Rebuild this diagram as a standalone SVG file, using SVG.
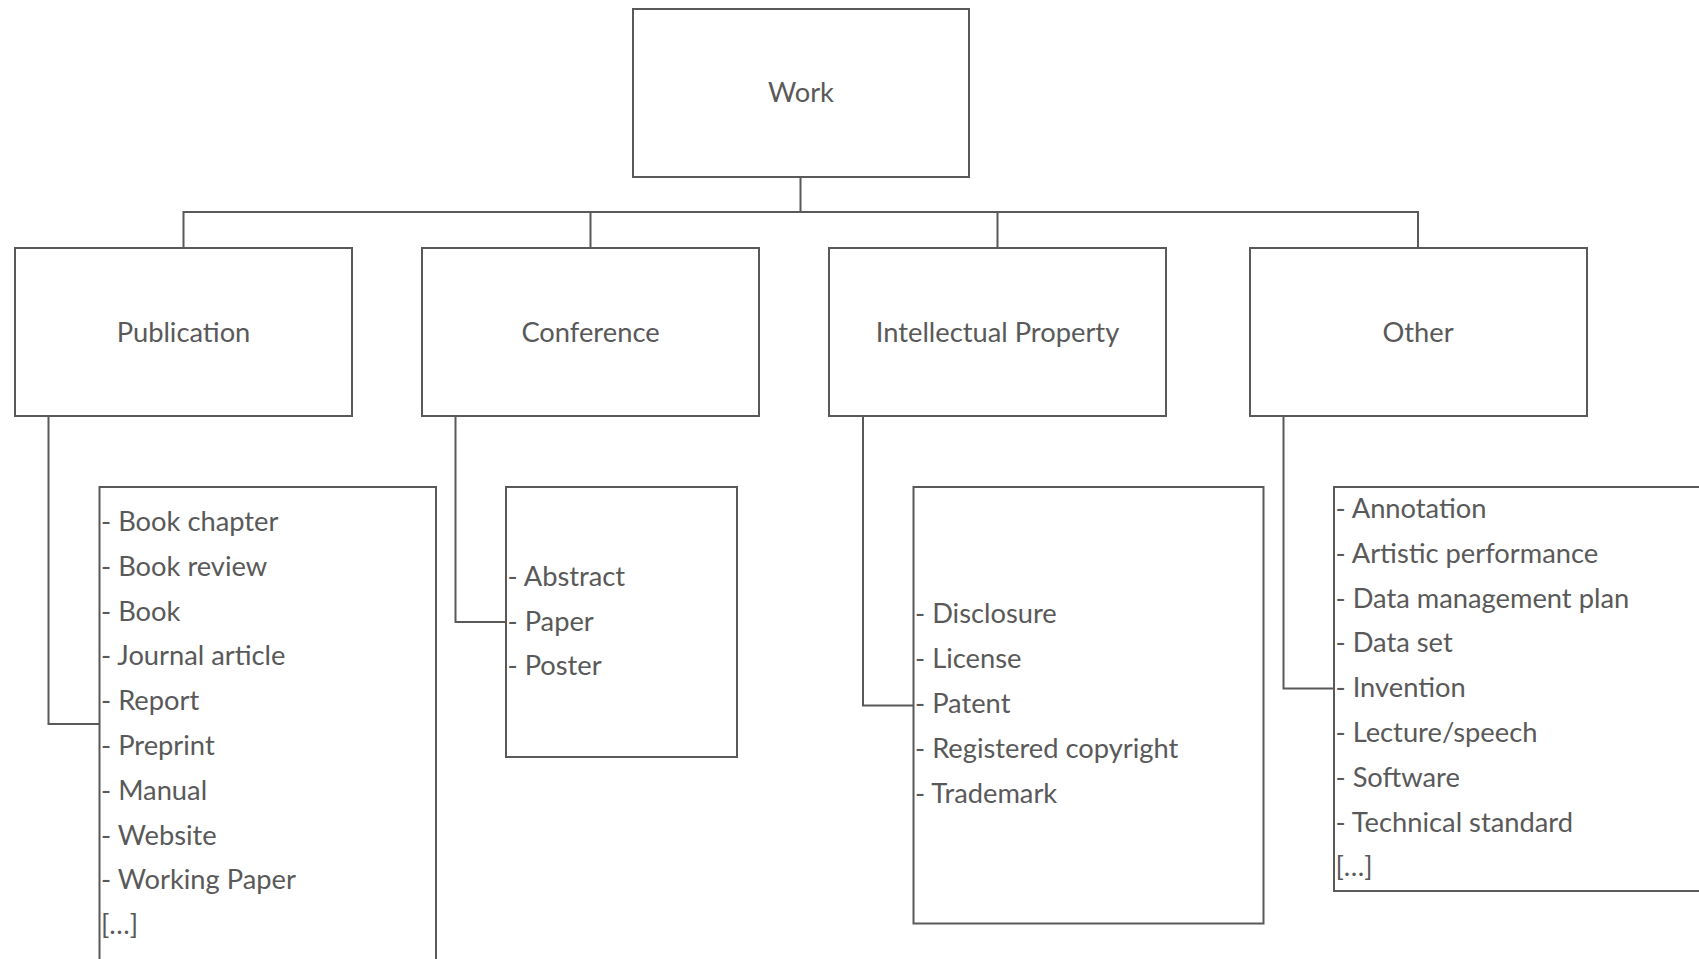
<svg xmlns="http://www.w3.org/2000/svg" width="1699" height="959" viewBox="0 0 1699 959">
<style>
.box{fill:#ffffff;stroke:#595959;stroke-width:2}
.conn{fill:none;stroke:#595959;stroke-width:2}
.t{font-family:Lato,"Liberation Sans",sans-serif;font-size:27.3px;fill:#595959}
.c{text-anchor:middle}
</style>
<rect width="1699" height="959" fill="#ffffff"/>
<g id="connectors">
<path class="conn" d="M800.5,177 V212 M183.5,248 V212 H1418 V248 M590.5,212 V248 M997.5,212 V248"/>
<path class="conn" d="M48.5,416 V724 H99.5"/>
<path class="conn" d="M455.5,416 V622 H506"/>
<path class="conn" d="M863,416 V705.5 H913.5"/>
<path class="conn" d="M1283.5,416 V688.5 H1334"/>
</g>
<g id="work">
<rect class="box" x="633" y="9" width="336" height="168"/>
<text class="t c" x="801" y="102">Work</text>
</g>
<g id="publication">
<rect class="box" x="15" y="248" width="337" height="168"/>
<text class="t c" x="183.5" y="341.5">Publication</text>
</g>
<g id="conference">
<rect class="box" x="422" y="248" width="337" height="168"/>
<text class="t c" x="590.5" y="341.5">Conference</text>
</g>
<g id="intellectual-property">
<rect class="box" x="829" y="248" width="337" height="168"/>
<text class="t c" x="997.5" y="341.5">Intellectual Property</text>
</g>
<g id="other">
<rect class="box" x="1250" y="248" width="337" height="168"/>
<text class="t c" x="1418" y="341.5">Other</text>
</g>
<g id="publication-list">
<rect class="box" x="99.5" y="487" width="336.5" height="480"/>
<text class="t" x="101" y="531">- Book chapter</text>
<text class="t" x="101" y="575.8">- Book review</text>
<text class="t" x="101" y="620.6">- Book</text>
<text class="t" x="101" y="665.4">- Journal article</text>
<text class="t" x="101" y="710.2">- Report</text>
<text class="t" x="101" y="755">- Preprint</text>
<text class="t" x="101" y="799.8">- Manual</text>
<text class="t" x="101" y="844.6">- Website</text>
<text class="t" x="101" y="889.4">- Working Paper</text>
<text class="t" x="101" y="934.2">[…]</text>
</g>
<g id="conference-list">
<rect class="box" x="506" y="487" width="231" height="270"/>
<text class="t" x="507.5" y="585.7">- Abstract</text>
<text class="t" x="507.5" y="630.5">- Paper</text>
<text class="t" x="507.5" y="675.3">- Poster</text>
</g>
<g id="ip-list">
<rect class="box" x="913.5" y="487" width="350" height="436.5"/>
<text class="t" x="915" y="623.3">- Disclosure</text>
<text class="t" x="915" y="668.1">- License</text>
<text class="t" x="915" y="712.9">- Patent</text>
<text class="t" x="915" y="757.7">- Registered copyright</text>
<text class="t" x="915" y="802.5">- Trademark</text>
</g>
<g id="other-list">
<rect class="box" x="1334" y="487" width="400" height="404"/>
<text class="t" x="1335.5" y="518">- Annotation</text>
<text class="t" x="1335.5" y="562.8">- Artistic performance</text>
<text class="t" x="1335.5" y="607.6">- Data management plan</text>
<text class="t" x="1335.5" y="652.4">- Data set</text>
<text class="t" x="1335.5" y="697.2">- Invention</text>
<text class="t" x="1335.5" y="742">- Lecture/speech</text>
<text class="t" x="1335.5" y="786.8">- Software</text>
<text class="t" x="1335.5" y="831.6">- Technical standard</text>
<text class="t" x="1335.5" y="876.4">[…]</text>
</g>
</svg>
